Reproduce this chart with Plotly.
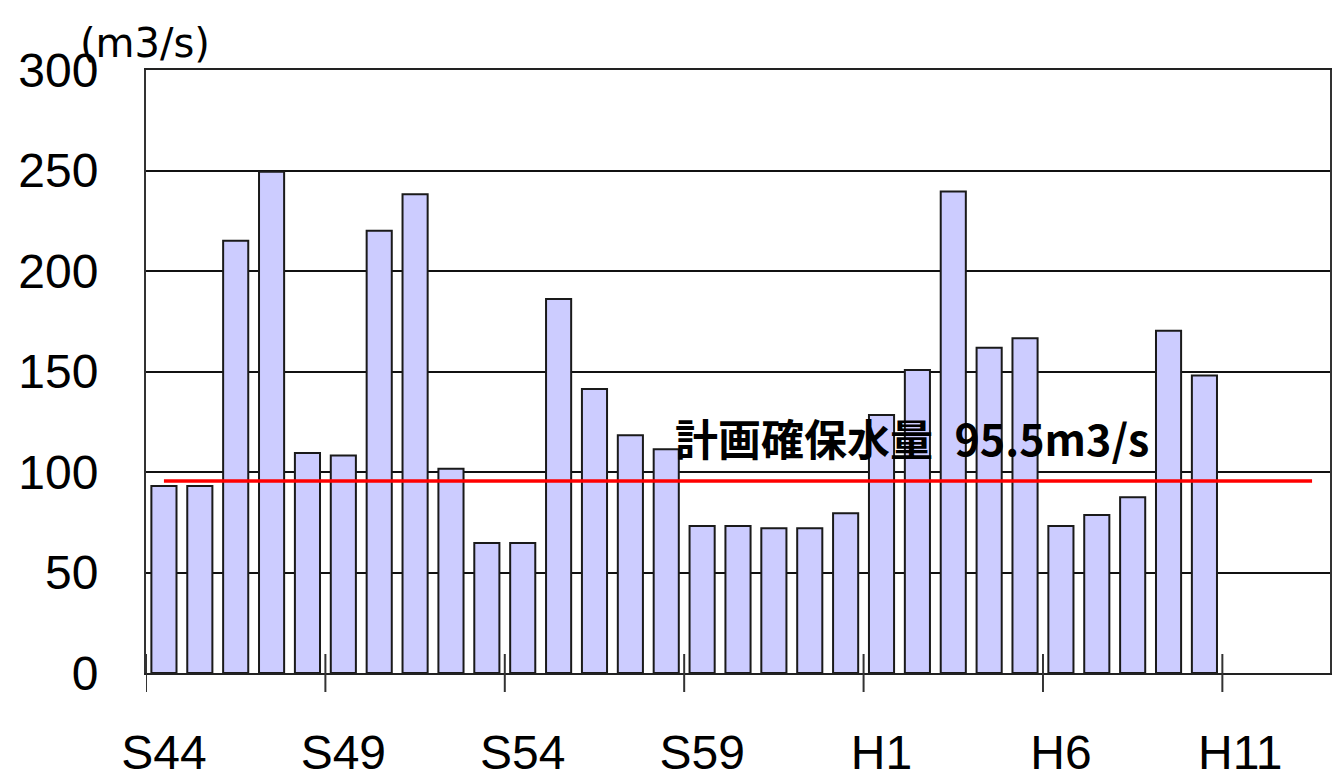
import plotly.graph_objects as go

# Fiscal-year categories (Showa 44 .. Heisei 13)
years = [f"S{n}" for n in range(44, 64)] + [f"H{n}" for n in range(1, 14)]

# Annual flow values (m3/s), S44 .. H10
flows = [93.0, 93.0, 215.1, 249.4, 109.5, 108.2, 220.0, 238.2, 101.6, 64.7,
         64.7, 186.1, 141.3, 118.3, 111.3, 73.1, 73.1, 72.0, 72.0, 79.5,
         128.4, 150.7, 239.5, 161.8, 166.5, 73.1, 78.6, 87.4, 170.3, 148.0]

# Planned secured flow
plan_flow = 95.5
plan_label = "計画確保水量\u200295.5m3/s"

# Axis labelling
label_years = ["S44", "S49", "S54", "S59", "H1", "H6", "H11"]
y_ticks = [0, 50, 100, 150, 200, 250, 300]
unit_label = "(m3/s)"

n_cat = len(years)
boundaries = [years.index(y) - 0.5 for y in label_years]

PLOT_TOP, PLOT_BOTTOM = 70, 673
plot_h = PLOT_BOTTOM - PLOT_TOP
TICK_HALF = 19  # px that boundary ticks reach above / below the axis

fig = go.Figure()

fig.add_trace(go.Bar(
    x=years[:len(flows)], y=flows,
    marker=dict(color="#CCCCFF", line=dict(color="#1a1a1a", width=2)),
    width=0.7, showlegend=False, hoverinfo="x+y",
))

fig.add_trace(go.Scatter(
    x=[years[0], years[-1]], y=[plan_flow, plan_flow],
    mode="lines", line=dict(color="#FF0000", width=3.5),
    showlegend=False, hoverinfo="skip",
))

tick_font = dict(family="Liberation Sans, Arial, sans-serif", size=48, color="#000000")

# Tick marks crossing the category axis at every fifth year boundary
boundary_ticks = [
    dict(type="line", xref="x", yref="paper",
         x0=b, x1=b, y0=-TICK_HALF / plot_h, y1=TICK_HALF / plot_h,
         line=dict(color="#333333", width=2), layer="above")
    for b in boundaries
]

fig.update_layout(
    width=1332, height=780,
    margin=dict(l=146, r=2, t=PLOT_TOP, b=780 - PLOT_BOTTOM, autoexpand=False),
    paper_bgcolor="white", plot_bgcolor="white",
    bargap=0.3,
    shapes=boundary_ticks,
    xaxis=dict(
        type="category", categoryorder="array", categoryarray=years,
        range=[-0.5, n_cat - 0.5],
        tickmode="array", tickvals=label_years, ticktext=label_years,
        ticks="", showgrid=False, tickfont=tick_font,
        ticklabelstandoff=36, automargin=False,
        showline=True, linecolor="#222222", linewidth=2, mirror=True,
        zeroline=False, fixedrange=True,
    ),
    yaxis=dict(
        range=[0, 300], tickmode="array", tickvals=y_ticks,
        tickfont=tick_font, ticklabelstandoff=36, automargin=False,
        showgrid=True, gridcolor="#111111", gridwidth=2,
        showline=True, linecolor="#333333", linewidth=2, mirror=True,
        ticks="", zeroline=False, fixedrange=True,
    ),
    annotations=[
        dict(
            text=unit_label, xref="paper", yref="paper",
            x=(78 - 146) / 1184, y=(PLOT_BOTTOM - 43) / plot_h,
            xanchor="left", yanchor="middle", showarrow=False,
            font=dict(family="DejaVu Sans, sans-serif", size=40, color="#000000"),
        ),
        dict(
            text="<b>" + plan_label + "</b>", xref="paper", yref="y",
            x=(673 - 146) / 1184, y=117.5,
            xanchor="left", yanchor="middle", showarrow=False,
            font=dict(family="Noto Sans CJK JP, sans-serif", size=43, color="#000000"),
        ),
    ],
)

fig.write_html("out.html")
